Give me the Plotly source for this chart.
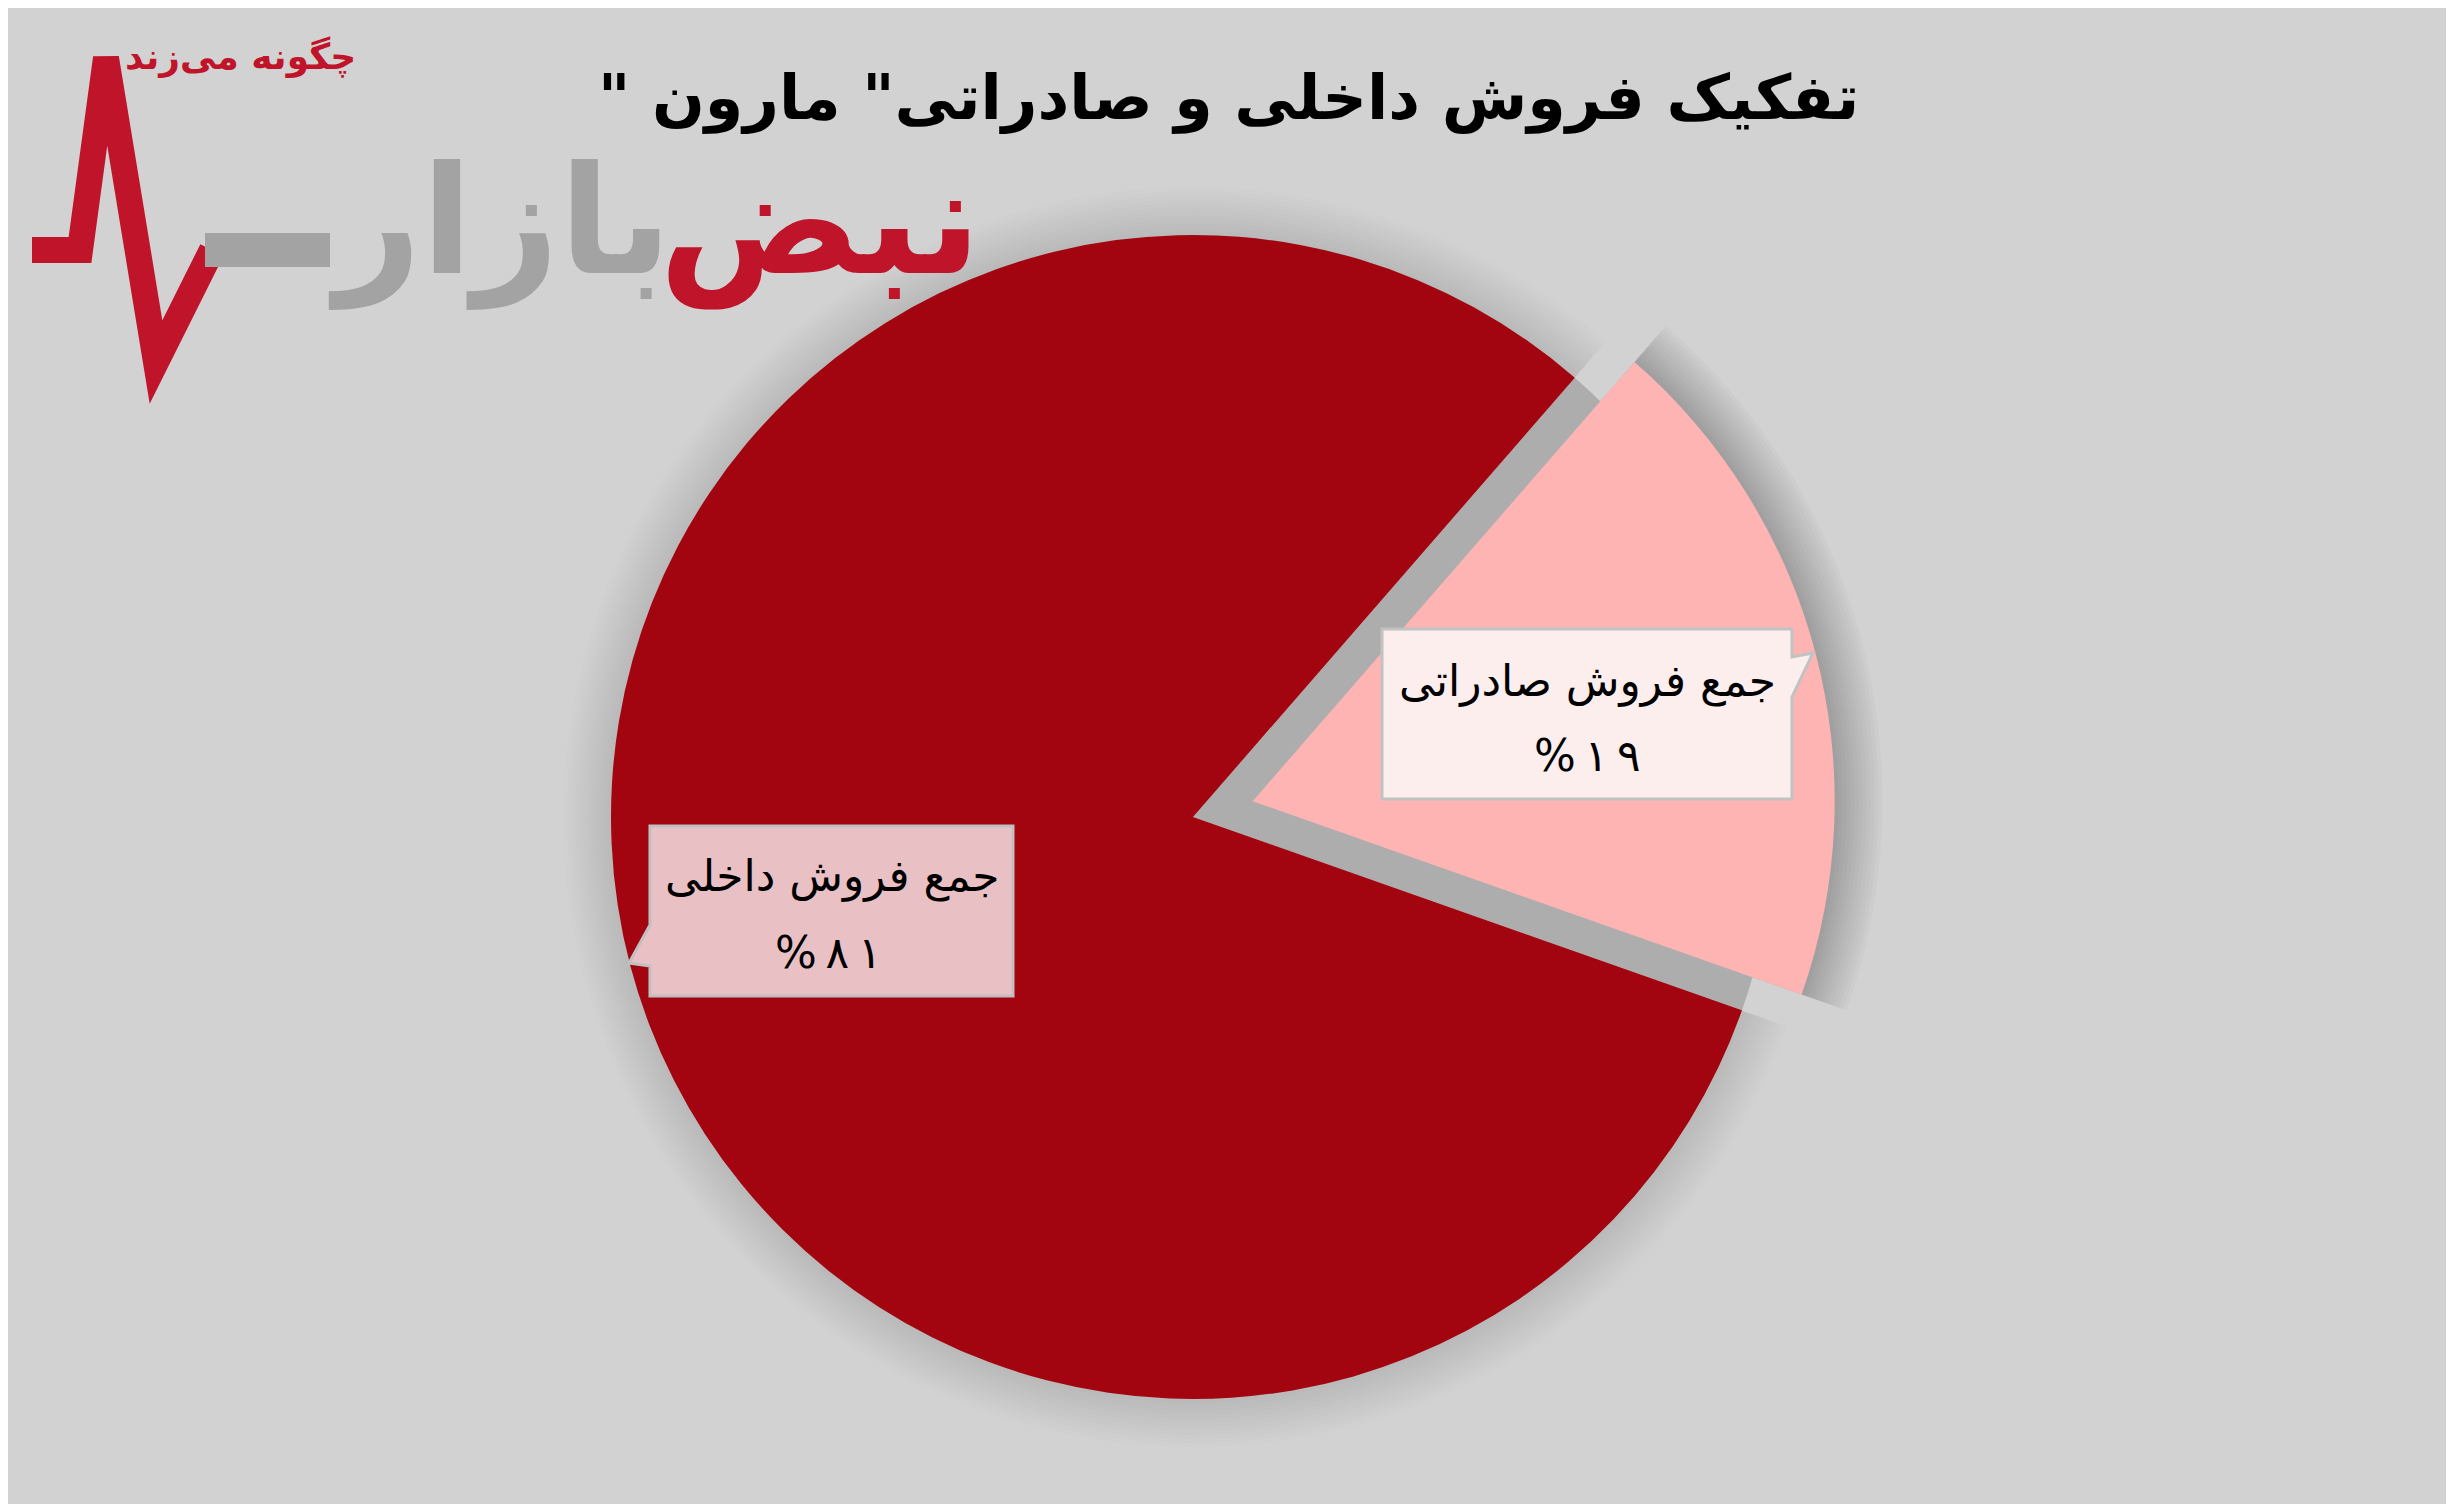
import plotly.graph_objects as go

W, H = 2454, 1504

# ---- data ----
labels = ["جمع فروش صادراتی", "جمع فروش داخلی"]
values = [19, 81]
pct_labels = ["%۱۹", "%۸۱"]
title_text = "\u200fتفکیک فروش داخلی و صادراتی\" مارون \"\u200f"
logo_tag = "چگونه می‌زند"
logo_words = ["بازار", "نبض"]

# ---- geometry (pixels, reference coordinates) ----
OFF = 8  # page margin of the browser
CX, CY = 1193 - OFF, 817 - OFF
R = 582
PULL = 0.106
D = PULL * R
ROT = 41


def dom(r):
    half = r + D
    return dict(x=[max(0, (CX - half) / W), min(1, (CX + half) / W)],
                y=[max(0, (H - CY - half) / H), min(1, (H - CY + half) / H)])


def px(x):
    return (x - OFF) / W


def py(y):
    return 1 - (y - OFF) / H


fig = go.Figure()

common = dict(labels=labels, values=values, sort=False, direction="clockwise",
              rotation=ROT, textinfo="none", hoverinfo="skip", showlegend=False)

# soft outer shadow layers (largest first)
for k in range(48, 0, -4):
    rr = R + k
    fig.add_trace(go.Pie(**common, domain=dom(rr), pull=[D / rr, 0],
                         marker=dict(colors=["rgba(0,0,0,0.018)", "rgba(0,0,0,0.008)"],
                                     line=dict(width=0))))

# gap shadow (unpulled export slice)
fig.add_trace(go.Pie(**common, domain=dom(R), pull=[0, PULL],
                     marker=dict(colors=["#adadad", "rgba(0,0,0,0)"], line=dict(width=0))))

# main pie
fig.add_trace(go.Pie(**common, domain=dom(R), pull=[PULL, 0],
                     marker=dict(colors=["#ffb4b4", "#a2050f"], line=dict(width=0))))


# ---- callout boxes ----
def path(pts, close=True):
    s = "M " + " L ".join(f"{px(x):.5f},{py(y):.5f}" for x, y in pts)
    return s + (" Z" if close else "")


exp_box = [(1382, 629), (1792, 629), (1792, 657), (1813, 653), (1792, 697), (1792, 799), (1382, 799)]
dom_box = [(650, 826), (1013, 826), (1013, 996), (650, 996), (650, 966), (629, 963), (650, 925)]

shapes = [
    dict(type="path", xref="paper", yref="paper", path=path(exp_box),
         fillcolor="#fdeeee", line=dict(color="#c2c2c2", width=3)),
    dict(type="path", xref="paper", yref="paper", path=path(dom_box),
         fillcolor="#e9c0c4", line=dict(color="#c0c0c0", width=3)),
]

# ---- logo (heartbeat line) ----
hb_red = [(32, 250), (80, 250), (106, 58), (156, 362), (212, 250)]
shapes.append(dict(type="path", xref="paper", yref="paper", path=path(hb_red, close=False),
                   line=dict(color="#c0142a", width=26)))
shapes.append(dict(type="line", xref="paper", yref="paper",
                   x0=px(205), y0=py(250), x1=px(330), y1=py(250),
                   line=dict(color="#a3a3a3", width=34)))

font = "DejaVu Sans"


def ann(text, x, y, size, color="#000000"):
    return dict(text=text, x=px(x), y=py(y), xref="paper", yref="paper",
                xanchor="center", yanchor="middle", showarrow=False,
                font=dict(family=font, size=size, color=color))


def spaced(s):
    return "\u2009".join(list(s))


annotations = [
    ann("<b>" + title_text + "</b>", 1228, 97, 62),
    ann(labels[0], 1587, 681, 44),
    ann(spaced(pct_labels[0]), 1587, 755, 44),
    ann(labels[1], 832, 876, 44),
    ann(spaced(pct_labels[1]), 828, 953, 44),
    ann("<b>" + logo_tag + "</b>", 240, 57, 36, "#c0142a"),
    ann("<b>" + logo_words[0] + "</b>", 500, 222, 150, "#a3a3a3"),
    ann("<b>" + logo_words[1] + "</b>", 820, 222, 150, "#c0142a"),
]

fig.update_layout(
    width=W, height=H,
    margin=dict(l=0, r=0, t=0, b=0),
    paper_bgcolor="#d2d2d2",
    plot_bgcolor="#d2d2d2",
    shapes=shapes,
    annotations=annotations,
)

fig.write_html("out.html")
